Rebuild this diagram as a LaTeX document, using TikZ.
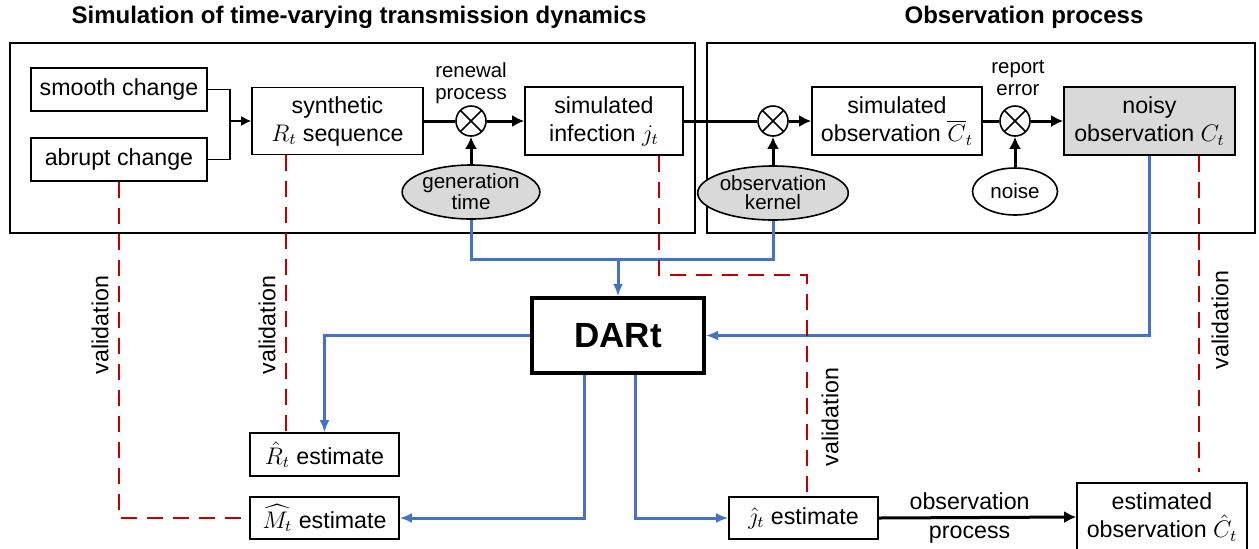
\documentclass[tikz,border=0pt]{standalone}
\usepackage{fontspec}
\setmainfont{Liberation Sans}
\usepackage{amsmath}
\usetikzlibrary{positioning, shapes.geometric, arrows.meta, calc}

\definecolor{estblue}{RGB}{68,114,196}
\definecolor{valred}{RGB}{192,0,0}
\definecolor{boxgray}{RGB}{217,217,217}

\tikzset{
    block/.style = {draw, line width=0.8pt, inner sep=0pt, align=center, font=\fontsize{11.6}{14}\selectfont},
    mult/.style = {draw, circle, line width=0.8pt, minimum size=15pt, inner sep=0pt,
        path picture={\draw [line width=0.8pt] (path picture bounding box.north west) -- (path picture bounding box.south east)
            (path picture bounding box.north east) -- (path picture bounding box.south west);}},
    source/.style = {draw, ellipse, line width=0.8pt, inner sep=0pt, align=center, font=\fontsize{10.3}{9.5}\selectfont},
    outerbox/.style = {draw, line width=1.4pt},
    flow/.style = {line width=1.5pt, -{Latex[length=6pt, width=6pt]}},
    thinflow/.style = {line width=0.8pt, -{Latex[length=5pt, width=5pt]}},
    feedline/.style = {line width=1.5pt, estblue},
    feed/.style = {feedline, -{Latex[length=6pt, width=5pt]}},
    valid/.style = {line width=1.2pt, valred, dash pattern=on 8pt off 5pt},
    tagtext/.style = {align=center, font=\fontsize{10.2}{11}\selectfont},
    valtext/.style = {rotate=90, font=\fontsize{11.6}{14}\selectfont},
}

\begin{document}
\begin{tikzpicture}[x=0.5pt, y=-0.5pt]
    \useasboundingbox (0, 0) rectangle (1259, 548);

    % the two stages
    \node [font=\fontsize{12}{14}\bfseries] (simtitle) at (359, 17) {Simulation of time-varying transmission dynamics};
    \node [font=\fontsize{12}{14}\bfseries] (obstitle) at (1024, 17) {Observation process};
    \draw [outerbox] (10, 43) rectangle (695, 233);
    \draw [outerbox] (707, 43) rectangle (1255, 233);

    \node [block, minimum width=88pt, minimum height=21.5pt] (smooth) at (119, 89.5) {smooth change};
    \node [block, minimum width=88pt, minimum height=21.5pt] (abrupt) at (119, 159.5) {abrupt change};
    \node [block, minimum width=85.5pt, minimum height=33.5pt] (synth) at (337.5, 121) {synthetic\\ $R_t$ sequence};
    \node [mult] (renew) at (471, 121) {};
    \node [block, minimum width=79pt, minimum height=34pt] (infect) at (604, 121) {simulated\\ infection $j_t$};
    \node [source, fill=boxgray, minimum width=60pt, minimum height=27pt] (gentime) at (471, 192) {generation\\ time};
    \node [tagtext] (renewtag) at (471, 83) {renewal\\ process};

    \node [mult] (convolve) at (773, 121) {};
    \node [block, minimum width=85pt, minimum height=34pt] (simobs) at (897, 121) {simulated\\ observation $\overline{C}_t$};
    \node [mult] (report) at (1015, 121) {};
    \node [block, fill=boxgray, minimum width=85.5pt, minimum height=34pt] (noisy) at (1149.5, 121) {noisy\\ observation $C_t$};
    \node [source, fill=boxgray, minimum width=60pt, minimum height=27pt] (kernel) at (773, 193) {observation\\ kernel};
    \node [source, minimum width=42.5pt, minimum height=23.5pt] (noise) at (1015, 191.5) {noise};
    \node [tagtext] (reporttag) at (1018, 78) {report\\ error};

    % estimation
    \node [draw, line width=2pt, minimum width=86pt, minimum height=37.5pt, font=\fontsize{17.5}{20}\bfseries] (dart) at (618, 335.5) {DARt};
    \node [block, minimum width=74.5pt, minimum height=21.5pt] (rhat) at (324.5, 454.5) {$\hat{R}_t$ estimate};
    \node [block, minimum width=74.5pt, minimum height=21pt] (mhat) at (324.5, 518) {$\widehat{M}_t$ estimate};
    \node [block, minimum width=74.5pt, minimum height=21pt] (jhat) at (803.5, 518) {$\hat{\jmath}_t$ estimate};
    \node [block, minimum width=85pt, minimum height=34pt] (chat) at (1162, 517) {estimated\\ observation $\hat{C}_t$};

    % simulation flow
    \coordinate (merge) at (230, 121);
    \draw [line width=0.8pt] (smooth.east) -| (merge);
    \draw [line width=0.8pt] (abrupt.east) -| (merge);
    \draw [thinflow] (merge) -- (synth.west);
    \draw [line width=1.5pt] (synth.east) -- (renew.west);
    \draw [flow] (renew.east) -- (infect.west);
    \draw [flow] (gentime.north) -- (renew.south);
    \draw [line width=1.5pt] (infect.east) -- (convolve.west);
    \draw [flow] (convolve.east) -- (simobs.west);
    \draw [flow] (kernel.north) -- (convolve.south);
    \draw [line width=1.5pt] (simobs.east) -- (report.west);
    \draw [flow] (report.east) -- (noisy.west);
    \draw [flow] (noise.north) -- (report.south);

    % inputs and outputs of DARt
    \coordinate (bus) at (618, 259);
    \draw [feedline] (gentime.south) |- (bus) -| (kernel.south);
    \draw [feed] (bus) -- (dart.north);
    \draw [feed] (noisy.south) |- (dart.east);
    \draw [feed] (dart.west) -| (rhat.north);
    \draw [feed] ($(dart.south)+(-34, 0)$) |- (mhat.east);
    \draw [feed] ($(dart.south)+(17, 0)$) |- (jhat.west);
    \draw [flow] (jhat.east) -- node [pos=0.46, above, font=\fontsize{11.6}{14}\selectfont] {observation}
        node [pos=0.46, below, font=\fontsize{11.6}{14}\selectfont] {process} (chat.west);

    % validation
    \draw [valid] (abrupt.south) |- (mhat.west);
    \draw [valid] ($(synth.south)+(-51.5, 0)$) coordinate (synthval) -- (synthval |- rhat.north);
    \draw [valid] ($(infect.south)+(55, 0)$) -- ++(0, 119) -| ($(jhat.north)+(3.5, 0)$);
    \draw [valid] ($(noisy.south)+(49.5, 0)$) -- ++(0, 316) coordinate (noisyval);
    \node [valtext] (val1) at (100, 325) {validation};
    \node [valtext] (val2) at (267, 325) {validation};
    \node [valtext] (val3) at (830, 417) {validation};
    \node [valtext] (val4) at (1220, 320) {validation};
\end{tikzpicture}
\end{document}
